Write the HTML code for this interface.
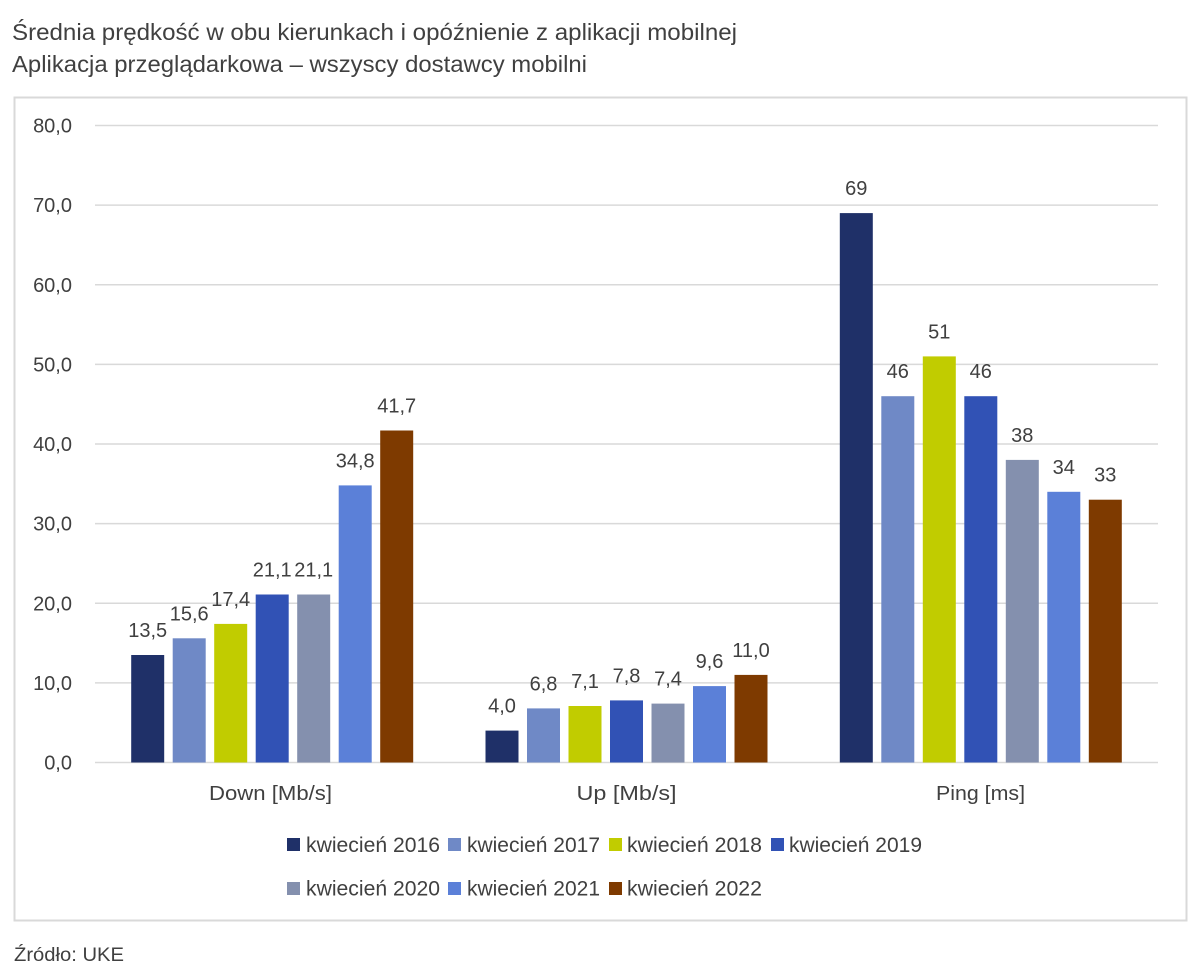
<!DOCTYPE html>
<html><head><meta charset="utf-8"><style>
html,body{margin:0;padding:0;background:#fff;}
svg{display:block;}
text{font-family:"Liberation Sans",sans-serif;fill:#404040;}
</style></head><body>
<svg width="1200" height="976" viewBox="0 0 1200 976" xmlns="http://www.w3.org/2000/svg">
<rect x="0" y="0" width="1200" height="976" fill="#fff"/>
<text x="12" y="40" font-size="23" textLength="725" lengthAdjust="spacingAndGlyphs">Średnia prędkość w obu kierunkach i opóźnienie z aplikacji mobilnej</text>
<text x="12" y="72" font-size="23" textLength="575" lengthAdjust="spacingAndGlyphs">Aplikacja przeglądarkowa – wszyscy dostawcy mobilni</text>
<rect x="14.5" y="97.5" width="1172" height="823" fill="none" stroke="#d9d9d9" stroke-width="2"/>
<g stroke="#d9d9d9" stroke-width="1.5">
<line x1="95" x2="1158" y1="125.5" y2="125.5"/>
<line x1="95" x2="1158" y1="205.1" y2="205.1"/>
<line x1="95" x2="1158" y1="284.8" y2="284.8"/>
<line x1="95" x2="1158" y1="364.4" y2="364.4"/>
<line x1="95" x2="1158" y1="444" y2="444"/>
<line x1="95" x2="1158" y1="523.6" y2="523.6"/>
<line x1="95" x2="1158" y1="603.3" y2="603.3"/>
<line x1="95" x2="1158" y1="682.9" y2="682.9"/>
<line x1="95" x2="1158" y1="762.5" y2="762.5"/>
</g>
<g font-size="20" text-anchor="end">
<text x="72" y="132.5">80,0</text>
<text x="72" y="212.1">70,0</text>
<text x="72" y="291.8">60,0</text>
<text x="72" y="371.4">50,0</text>
<text x="72" y="451">40,0</text>
<text x="72" y="530.6">30,0</text>
<text x="72" y="610.3">20,0</text>
<text x="72" y="689.9">10,0</text>
<text x="72" y="769.5">0,0</text>
</g>
<!-- Down -->
<rect x="131.2" y="655.0" width="33" height="107.5" fill="#1F3068"/>
<rect x="172.7" y="638.3" width="33" height="124.2" fill="#6F89C6"/>
<rect x="214.2" y="623.9" width="33" height="138.6" fill="#C1CC00"/>
<rect x="255.7" y="594.5" width="33" height="168" fill="#3152B5"/>
<rect x="297.2" y="594.5" width="33" height="168" fill="#8490AE"/>
<rect x="338.7" y="485.4" width="33" height="277.1" fill="#5B80D8"/>
<rect x="380.2" y="430.5" width="33" height="332" fill="#7E3A00"/>
<!-- Up -->
<rect x="485.5" y="730.6" width="33" height="31.9" fill="#1F3068"/>
<rect x="527" y="708.4" width="33" height="54.1" fill="#6F89C6"/>
<rect x="568.5" y="706.0" width="33" height="56.5" fill="#C1CC00"/>
<rect x="610" y="700.4" width="33" height="62.1" fill="#3152B5"/>
<rect x="651.5" y="703.6" width="33" height="58.9" fill="#8490AE"/>
<rect x="693" y="686.1" width="33" height="76.4" fill="#5B80D8"/>
<rect x="734.5" y="674.9" width="33" height="87.6" fill="#7E3A00"/>
<!-- Ping -->
<rect x="839.8" y="213.1" width="33" height="549.4" fill="#1F3068"/>
<rect x="881.3" y="396.2" width="33" height="366.3" fill="#6F89C6"/>
<rect x="922.8" y="356.4" width="33" height="406.1" fill="#C1CC00"/>
<rect x="964.3" y="396.2" width="33" height="366.3" fill="#3152B5"/>
<rect x="1005.8" y="459.9" width="33" height="302.6" fill="#8490AE"/>
<rect x="1047.3" y="491.8" width="33" height="270.7" fill="#5B80D8"/>
<rect x="1088.8" y="499.7" width="33" height="262.8" fill="#7E3A00"/>
<g font-size="20" text-anchor="middle">
<text x="147.7" y="637">13,5</text>
<text x="189.2" y="620.3">15,6</text>
<text x="230.7" y="605.9">17,4</text>
<text x="272.2" y="576.5">21,1</text>
<text x="313.7" y="576.5">21,1</text>
<text x="355.2" y="467.4">34,8</text>
<text x="396.7" y="412.5">41,7</text>
<text x="502" y="712.6">4,0</text>
<text x="543.5" y="690.4">6,8</text>
<text x="585" y="688">7,1</text>
<text x="626.5" y="682.4">7,8</text>
<text x="668" y="685.6">7,4</text>
<text x="709.5" y="668.1">9,6</text>
<text x="751" y="656.9">11,0</text>
<text x="856.3" y="195.1">69</text>
<text x="897.8" y="378.2">46</text>
<text x="939.3" y="338.4">51</text>
<text x="980.8" y="378.2">46</text>
<text x="1022.3" y="441.9">38</text>
<text x="1063.8" y="473.8">34</text>
<text x="1105.3" y="481.7">33</text>
</g>
<g font-size="20" text-anchor="middle">
<text x="270.5" y="800" textLength="123" lengthAdjust="spacingAndGlyphs">Down [Mb/s]</text>
<text x="626.5" y="800" textLength="100" lengthAdjust="spacingAndGlyphs">Up [Mb/s]</text>
<text x="980.5" y="800" textLength="89" lengthAdjust="spacingAndGlyphs">Ping [ms]</text>
</g>
<g font-size="21">
<rect x="287" y="838" width="13" height="13" fill="#1F3068"/>
<text x="306" y="852" textLength="134" lengthAdjust="spacingAndGlyphs">kwiecień 2016</text>
<rect x="448" y="838" width="13" height="13" fill="#6F89C6"/>
<text x="467" y="852" textLength="133" lengthAdjust="spacingAndGlyphs">kwiecień 2017</text>
<rect x="609" y="838" width="13" height="13" fill="#C1CC00"/>
<text x="627" y="852" textLength="135" lengthAdjust="spacingAndGlyphs">kwiecień 2018</text>
<rect x="771" y="838" width="13" height="13" fill="#3152B5"/>
<text x="789" y="852" textLength="133" lengthAdjust="spacingAndGlyphs">kwiecień 2019</text>
<rect x="287" y="882" width="13" height="13" fill="#8490AE"/>
<text x="306" y="895.5" textLength="134" lengthAdjust="spacingAndGlyphs">kwiecień 2020</text>
<rect x="448" y="882" width="13" height="13" fill="#5B80D8"/>
<text x="467" y="895.5" textLength="133" lengthAdjust="spacingAndGlyphs">kwiecień 2021</text>
<rect x="609" y="882" width="13" height="13" fill="#7E3A00"/>
<text x="627" y="895.5" textLength="135" lengthAdjust="spacingAndGlyphs">kwiecień 2022</text>
</g>
<text x="14" y="961" font-size="19" textLength="110" lengthAdjust="spacingAndGlyphs">Źródło: UKE</text>
</svg>
</body></html>
